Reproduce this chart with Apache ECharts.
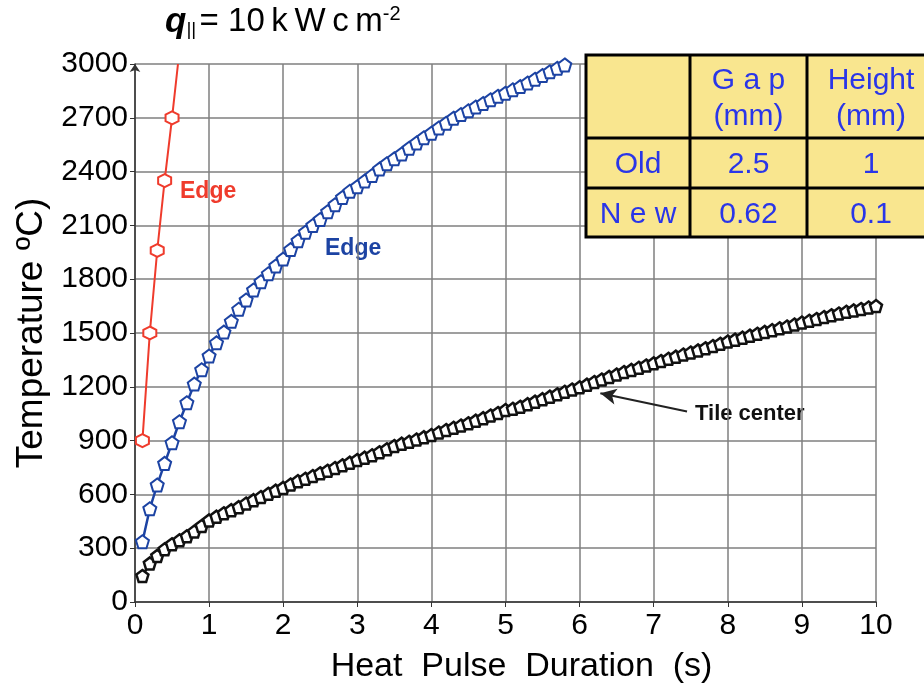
<!DOCTYPE html>
<html>
    <head>
        <meta charset="utf-8">
        <title>Heat pulse</title>
        <script src="https://cdn.jsdelivr.net/npm/echarts@6/dist/echarts.min.js"></script>
        <style type="text/css">
            *{margin: 0}
            body{background: #fff}
        </style>
    </head>
    <body>
        <div id="main" style="width: 924px;height:692px;"></div>
        <script type="text/javascript">
        // data
        var redTime = [0.1, 0.2, 0.3, 0.4, 0.5, 0.58];
        var redTemp = [900, 1500, 1960, 2350, 2700, 3000];

        var blueTime = [0.1,0.2,0.3,0.4,0.5,0.6,0.7,0.8,0.9,1.0,1.1,1.2,1.3,1.4,1.5,1.6,1.7,1.8,1.9,2.0,
                        2.1,2.2,2.3,2.4,2.5,2.6,2.7,2.8,2.9,3.0,3.1,3.2,3.3,3.4,3.5,3.6,3.7,3.8,3.9,4.0,
                        4.1,4.2,4.3,4.4,4.5,4.6,4.7,4.8,4.9,5.0,5.1,5.2,5.3,5.4,5.5,5.6,5.7,5.8];
        var blueTemp = [336,520,653,773,888,1005,1111,1215,1295,1372,1445,1505,1565,1632,1684,1740,1786,1830,1874,1912,
                        1965,2015,2062,2100,2133,2176,2215,2256,2290,2316,2347,2378,2414,2444,2471,2498,2530,2560,2589,2614,
                        2643,2670,2698,2718,2739,2760,2780,2801,2820,2837,2856,2874,2894,2915,2936,2957,2976,2995];

        var blackTime = [0.1,0.2,0.3,0.4,0.5,0.6,0.7,0.8,0.9,1.0,1.1,1.2,1.3,1.4,1.5,1.6,1.7,1.8,1.9,2.0,
                         2.1,2.2,2.3,2.4,2.5,2.6,2.7,2.8,2.9,3.0,3.1,3.2,3.3,3.4,3.5,3.6,3.7,3.8,3.9,4.0,
                         4.1,4.2,4.3,4.4,4.5,4.6,4.7,4.8,4.9,5.0,5.1,5.2,5.3,5.4,5.5,5.6,5.7,5.8,5.9,6.0,
                         6.1,6.2,6.3,6.4,6.5,6.6,6.7,6.8,6.9,7.0,7.1,7.2,7.3,7.4,7.5,7.6,7.7,7.8,7.9,8.0,
                         8.1,8.2,8.3,8.4,8.5,8.6,8.7,8.8,8.9,9.0,9.1,9.2,9.3,9.4,9.5,9.6,9.7,9.8,9.9,10.0];
        var blackTemp = [145,215,257,294,322,344,366,393,424,455,476,495,512,529,549,568,585,603,621,636,
                         655,674,687,702,718,732,747,762,777,792,805,818,835,852,870,883,893,906,919,931,
                         945,959,971,984,997,1011,1025,1040,1054,1070,1077,1089,1103,1117,1131,1145,1158,1172,1185,1197,
                         1212,1227,1241,1255,1268,1282,1294,1306,1319,1331,1344,1356,1368,1380,1391,1403,1415,1427,1440,1452,
                         1463,1474,1485,1496,1506,1516,1526,1536,1547,1558,1568,1578,1589,1599,1609,1618,1626,1634,1642,1650];

        var tableRows = [
            ['', 'G a p\n(mm)', 'Height\n(mm)'],
            ['Old', '2.5', '1'],
            ['N e w', '0.62', '0.1']
        ];

        var font = "'Liberation Sans', Arial, sans-serif";
        var hexagon = 'path://M0,-10 L8.66,-5 L8.66,5 L0,10 L-8.66,5 L-8.66,-5 Z';
        var pentagon = 'path://M0,-10 L9.5,-3.1 L5.9,8.1 L-5.9,8.1 L-9.5,-3.1 Z';

        function pairs(xs, ys) {
            return xs.map(function (x, i) { return [x, ys[i]]; });
        }

        // red: the last point is only where the line leaves the top
        var redData = pairs(redTime, redTemp).map(function (p, i) {
            return i === redTime.length - 1 ? {value: p, symbolSize: 0} : p;
        });

        // table as graphic elements
        var colX = [586, 690, 807, 940];
        var rowY = [55, 138, 188, 237];
        var tableEls = [{
            type: 'rect',
            shape: {x: colX[0], y: rowY[0], width: colX[3] - colX[0], height: rowY[3] - rowY[0]},
            style: {fill: '#f9e68f', stroke: '#000', lineWidth: 3},
            z: 100
        }];
        colX.slice(1, 3).forEach(function (x) {
            tableEls.push({type: 'line', shape: {x1: x, y1: rowY[0], x2: x, y2: rowY[3]},
                style: {stroke: '#000', lineWidth: 3}, z: 101});
        });
        rowY.slice(1, 3).forEach(function (y) {
            tableEls.push({type: 'line', shape: {x1: colX[0], y1: y, x2: colX[3], y2: y},
                style: {stroke: '#000', lineWidth: 3}, z: 101});
        });
        tableRows.forEach(function (row, r) {
            row.forEach(function (txt, c) {
                if (!txt) return;
                tableEls.push({
                    type: 'text',
                    x: c === 2 ? 871 : (colX[c] + colX[c + 1]) / 2,
                    y: (rowY[r] + rowY[r + 1]) / 2 + 2,
                    style: {
                        text: txt, fill: '#2a36e8', font: '30px ' + font,
                        align: 'center', verticalAlign: 'middle', lineHeight: 36
                    },
                    z: 102
                });
            });
        });

        var myChart = echarts.init(document.getElementById('main'));
        myChart.setOption({
            backgroundColor: '#fff',
            animation: false,
            grid: {left: 135, right: 48, top: 64, bottom: 90},
            xAxis: {
                type: 'value', min: 0, max: 10, interval: 1,
                name: 'Heat  Pulse  Duration  (s)',
                nameLocation: 'middle', nameGap: 48,
                nameTextStyle: {fontSize: 34, fontFamily: font, color: '#000', padding: [0, 0, 0, 32]},
                axisLine: {lineStyle: {color: '#333', width: 1.5}},
                axisTick: {show: true, length: 5, lineStyle: {color: '#333'}},
                axisLabel: {fontSize: 30, fontFamily: font, color: '#000', margin: 9},
                splitLine: {lineStyle: {color: '#7f7f7f', width: 1.5}}
            },
            yAxis: {
                type: 'value', min: 0, max: 3000, interval: 300,
                name: 'Temperature \u00baC)',
                nameLocation: 'middle', nameGap: 80,
                nameTextStyle: {fontSize: 37, fontFamily: font, color: '#000'},
                axisLine: {show: true, symbol: ['none', 'arrow'], symbolSize: [8, 8],
                    lineStyle: {color: '#333', width: 1.5}},
                axisTick: {show: true, length: 5, lineStyle: {color: '#333'}},
                axisLabel: {fontSize: 30, fontFamily: font, color: '#000', margin: 7,
                    formatter: function (v) { return String(v); }},
                splitLine: {lineStyle: {color: '#7f7f7f', width: 1.5}}
            },
            series: [{
                name: 'Tile center',
                type: 'line',
                data: pairs(blackTime, blackTemp),
                symbol: pentagon, symbolSize: 12,
                lineStyle: {color: '#111', width: 2.5},
                itemStyle: {color: '#fff', borderColor: '#111', borderWidth: 2.5},
                markLine: {
                    silent: true,
                    symbol: ['none', 'arrow'], symbolSize: [12, 16],
                    label: {show: false},
                    lineStyle: {color: '#222', width: 2, type: 'solid'},
                    data: [[{coord: [7.45, 1062]}, {coord: [6.28, 1164]}]]
                },
                z: 3
            }, {
                name: 'Edge new',
                type: 'line',
                data: pairs(blueTime, blueTemp),
                symbol: pentagon, symbolSize: 13,
                lineStyle: {color: '#1c43a3', width: 2.5},
                itemStyle: {color: '#fff', borderColor: '#1c43a3', borderWidth: 2},
                z: 4
            }, {
                name: 'Edge old',
                type: 'line',
                data: redData,
                symbol: hexagon, symbolSize: 13,
                lineStyle: {color: '#ef3b2c', width: 2},
                itemStyle: {color: '#fff', borderColor: '#ef3b2c', borderWidth: 2},
                z: 5
            }],
            graphic: [{
                type: 'text', left: 165, top: 4,
                style: {
                    text: '{q|q}{s|||} {n|= 10\u2009k\u2009W\u2009c\u2009m}{p|-2}',
                    rich: {
                        q: {font: 'italic bold 35px ' + font, fill: '#000'},
                        s: {font: '19px ' + font, fill: '#000', padding: [16, 0, 0, 0]},
                        n: {font: '33px ' + font, fill: '#000'},
                        p: {font: '20px ' + font, fill: '#000', padding: [0, 0, 16, 0]}
                    }
                }
            }, {
                type: 'text', left: 180, top: 180,
                style: {text: 'Edge', fill: '#ef3b2c', font: 'bold 23px ' + font}
            }, {
                type: 'text', left: 325, top: 237,
                style: {text: 'Edge', fill: '#1c43a3', font: 'bold 23px ' + font}
            }, {
                type: 'text', left: 695, top: 403,
                style: {text: 'Tile center', fill: '#111', font: 'bold 22px ' + font}
            }].concat(tableEls)
        });
        </script>
    </body>
</html>
